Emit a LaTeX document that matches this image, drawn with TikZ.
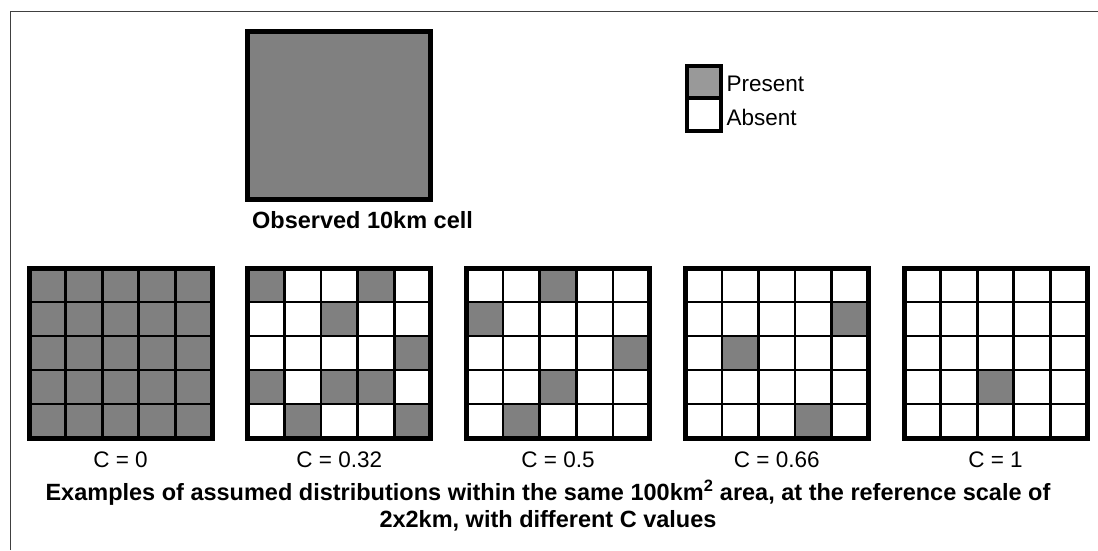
\documentclass[tikz,border=0pt]{standalone}
\usepackage{fontspec}
\setmainfont{Liberation Sans}
\usetikzlibrary{positioning, calc}

\definecolor{cellgray}{HTML}{808080}
\definecolor{keygray}{HTML}{999999}

\tikzset{
    gridnode/.style={minimum width=183pt, minimum height=170pt, inner sep=0pt, outer sep=0pt},
    clabel/.style={font=\fontsize{22.5}{26}\selectfont, inner sep=0pt},
    boldlabel/.style={font=\bfseries\fontsize{23.5}{27}\selectfont, inner sep=0pt},
    keybox/.style={draw, line width=4pt, minimum width=34pt, minimum height=32.5pt, inner sep=0pt, outer sep=0pt},
}

% 5x5 grid: name, centre x, present cells as row/col
\newcommand{\cgrid}[3]{%
    \node[gridnode] (#1) at (#2,197) {};
    \foreach \r/\c in {#3}
        \fill[cellgray] ($(#1.north west)+(36.6*\c,-34*\r)$) rectangle ++(36.6,-34);
    \foreach \i in {1,...,4} {
        \draw[line width=2.7pt] ($(#1.north west)+(36.6*\i,0)$) -- ++(0,-170);
        \draw[line width=2.7pt] ($(#1.north west)+(0,-34*\i)$) -- ++(183,0);
    }
    \draw[line width=5pt] (#1.north west) rectangle (#1.south east);
}

\begin{document}
\begin{tikzpicture}[x=1pt, y=1pt]
    \useasboundingbox (0,0) rectangle (1098,550);
    \draw[line width=1pt, black!75] (10,0) |- (1098,538);

    % observed cell
    \node[draw, line width=5pt, fill=cellgray, minimum width=183pt, minimum height=168pt,
          inner sep=0pt, outer sep=0pt] (obs) at (339,434.5) {};
    \node[boldlabel, below=28.5pt of obs.south west, anchor=base west, xshift=4.5pt] (obslabel) {Observed 10km cell};

    % key
    \node[keybox, fill=keygray] (pbox) at (704,468) {};
    \node[keybox, below=0pt of pbox] (abox) {};
    \node[clabel, anchor=base west] (ptext) at ($(pbox.east)+(5.5,-10)$) {Present};
    \node[clabel, anchor=base west] (atext) at ($(abox.east)+(5.5,-11)$) {Absent};

    % example grids
    \cgrid{g1}{120.5}{0/0,0/1,0/2,0/3,0/4,1/0,1/1,1/2,1/3,1/4,2/0,2/1,2/2,2/3,2/4,3/0,3/1,3/2,3/3,3/4,4/0,4/1,4/2,4/3,4/4}
    \cgrid{g2}{339.25}{0/0,0/3,1/2,2/4,3/0,3/2,3/3,4/1,4/4}
    \cgrid{g3}{558}{0/2,1/0,2/4,3/2,4/1}
    \cgrid{g4}{776.75}{1/4,2/1,4/3}
    \cgrid{g5}{995.5}{3/2}

    \node[clabel, below=29pt of g1.south, anchor=base] (c1) {C = 0};
    \node[clabel, below=29pt of g2.south, anchor=base] (c2) {C = 0.32};
    \node[clabel, below=29pt of g3.south, anchor=base] (c3) {C = 0.5};
    \node[clabel, below=29pt of g4.south, anchor=base] (c4) {C = 0.66};
    \node[clabel, below=29pt of g5.south, anchor=base] (c5) {C = 1};

    \node[boldlabel, align=center, anchor=north] (caption) at (548,70)
        {Examples of assumed distributions within the same 100km\textsuperscript{2} area, at the reference scale of\\
         2x2km, with different C values};
\end{tikzpicture}
\end{document}
